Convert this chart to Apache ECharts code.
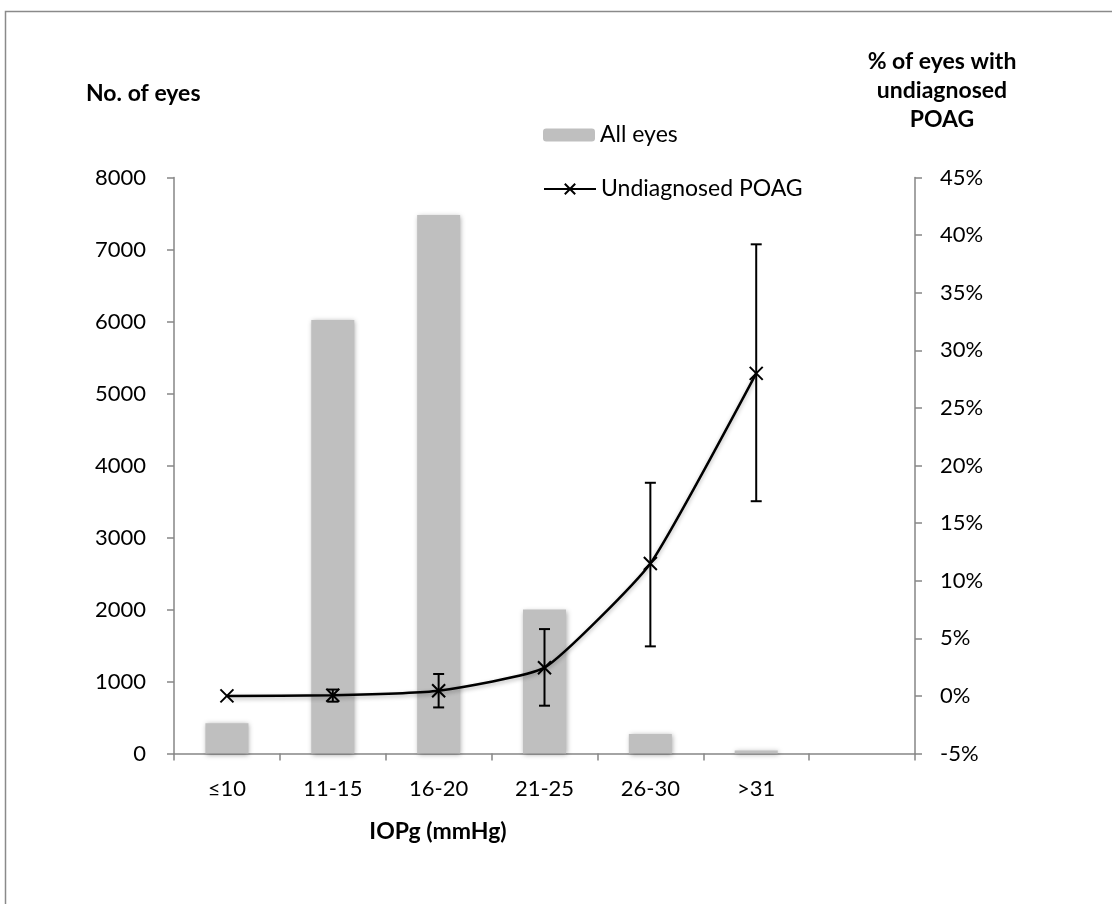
<!DOCTYPE html>
<html>
<head>
<meta charset="utf-8">
<script src="https://cdn.jsdelivr.net/npm/echarts@6/dist/echarts.min.js"></script>
<style>
html,body{margin:0;padding:0;background:#fff;}
#c{width:1112px;height:904px;}
</style>
</head>
<body>
<div id="c"></div>
<script>
// ---- data ----
const categories = ['≤10', '11-15', '16-20', '21-25', '26-30', '>31', ''];
const allEyes    = [420, 6020, 7480, 2000, 270, 40, null];
const poag       = [0.0, 0.05, 0.45, 2.45, 11.5, 28.0, null];
const poagLow    = [null, -0.5, -1.0, -0.85, 4.3, 16.9, null];
const poagHigh   = [null, 0.55, 1.9, 5.8, 18.5, 39.2, null];
const leftTicks  = {min: 0, max: 8000, interval: 1000};
const rightTicks = {min: -5, max: 45, interval: 5};

const errData = [];
categories.forEach((c, i) => {
  if (poagLow[i] != null && poagHigh[i] != null) errData.push([i, poagLow[i], poagHigh[i]]);
});

const FONT = 'Lato';
const axisColor = '#868686';

function renderErr(params, api) {
  const idx = api.value(0);
  const lo = api.coord([idx, api.value(1)]);
  const hi = api.coord([idx, api.value(2)]);
  const hw = 5.5;
  const style = {stroke: '#000', lineWidth: 2};
  return {type: 'group', children: [
    {type: 'line', shape: {x1: lo[0], y1: lo[1], x2: hi[0], y2: hi[1]}, style: style},
    {type: 'line', shape: {x1: lo[0] - hw, y1: lo[1], x2: lo[0] + hw, y2: lo[1]}, style: style},
    {type: 'line', shape: {x1: hi[0] - hw, y1: hi[1], x2: hi[0] + hw, y2: hi[1]}, style: style}
  ]};
}

const chart = echarts.init(document.getElementById('c'), null, {renderer: 'canvas'});
const option = {
  backgroundColor: '#fff',
  animation: false,
  textStyle: {fontFamily: FONT},
  grid: {left: 174, right: 197, top: 177.5, bottom: 150.5, containLabel: false},
  legend: [
    {
      data: ['All eyes'], left: 543, top: 123, padding: 0, itemWidth: 52, itemHeight: 13, itemGap: 5,
      textStyle: {fontFamily: FONT, fontSize: 23, color: '#000', lineHeight: 24},
      selectedMode: false
    },
    {
      data: ['Undiagnosed POAG'], left: 543, top: 177, padding: 0, itemWidth: 52, itemHeight: 13,
      textStyle: {fontFamily: FONT, fontSize: 23, color: '#000', lineHeight: 24},
      selectedMode: false
    }
  ],
  xAxis: {
    type: 'category',
    data: categories,
    boundaryGap: true,
    axisLine: {show: true, lineStyle: {color: axisColor, width: 1.5}},
    axisTick: {show: true, length: 7, lineStyle: {color: axisColor, width: 1.5}},
    axisLabel: {fontFamily: FONT, fontSize: 22, color: '#000', margin: 24, interval: 0},
    splitLine: {show: false}
  },
  yAxis: [
    {
      type: 'value', min: leftTicks.min, max: leftTicks.max, interval: leftTicks.interval,
      axisLine: {show: true, lineStyle: {color: axisColor, width: 1.5}},
      axisTick: {show: true, length: 7, lineStyle: {color: axisColor, width: 1.5}},
      axisLabel: {fontFamily: FONT, fontSize: 22, color: '#000', margin: 28, formatter: v => String(v)},
      splitLine: {show: false}
    },
    {
      type: 'value', min: rightTicks.min, max: rightTicks.max, interval: rightTicks.interval,
      position: 'right',
      axisLine: {show: true, lineStyle: {color: axisColor, width: 1.5}},
      axisTick: {show: true, length: 7, lineStyle: {color: axisColor, width: 1.5}},
      axisLabel: {fontFamily: FONT, fontSize: 22, color: '#000', margin: 25, formatter: '{value}%'},
      splitLine: {show: false}
    }
  ],
  series: [
    {
      name: 'All eyes', type: 'bar', data: allEyes, barWidth: 43, yAxisIndex: 0,
      itemStyle: {color: '#BFBFBF', shadowBlur: 5, shadowColor: 'rgba(0,0,0,0.35)', shadowOffsetX: 1, shadowOffsetY: 1},
      z: 2
    },
    {
      name: 'Undiagnosed POAG', type: 'line', data: poag, yAxisIndex: 1,
      smooth: 0.15, connectNulls: false,
      symbol: 'path://M0,0L10,10M10,0L0,10', symbolSize: 13, showSymbol: true,
      lineStyle: {color: '#000', width: 2.5, shadowBlur: 4, shadowColor: 'rgba(0,0,0,0.3)', shadowOffsetY: 2},
      itemStyle: {color: '#000', borderColor: '#000', borderWidth: 2},
      z: 4
    },
    {
      name: 'err', type: 'custom', yAxisIndex: 1, data: errData,
      encode: {x: 0, y: [1, 2]},
      renderItem: renderErr, z: 5, silent: true
    }
  ],
  graphic: [
    {type: 'rect', shape: {x: 5.5, y: 11.5, width: 1300, height: 1100},
     style: {fill: 'none', stroke: '#8a8a8a', lineWidth: 1.5}, silent: true},
    {type: 'text', left: 86, top: 82,
     style: {text: 'No. of eyes', font: 'bold 23px Lato', fill: '#000'}},
    {type: 'text', x: 942, y: 47,
     style: {text: '% of eyes with\nundiagnosed\nPOAG', font: 'bold 23px Lato', fill: '#000',
             align: 'center', lineHeight: 29}},
    {type: 'text', x: 438, y: 820,
     style: {text: 'IOPg (mmHg)', font: 'bold 23px Lato', fill: '#000', align: 'center'}}
  ]
};
chart.setOption(option);
</script>
</body>
</html>
